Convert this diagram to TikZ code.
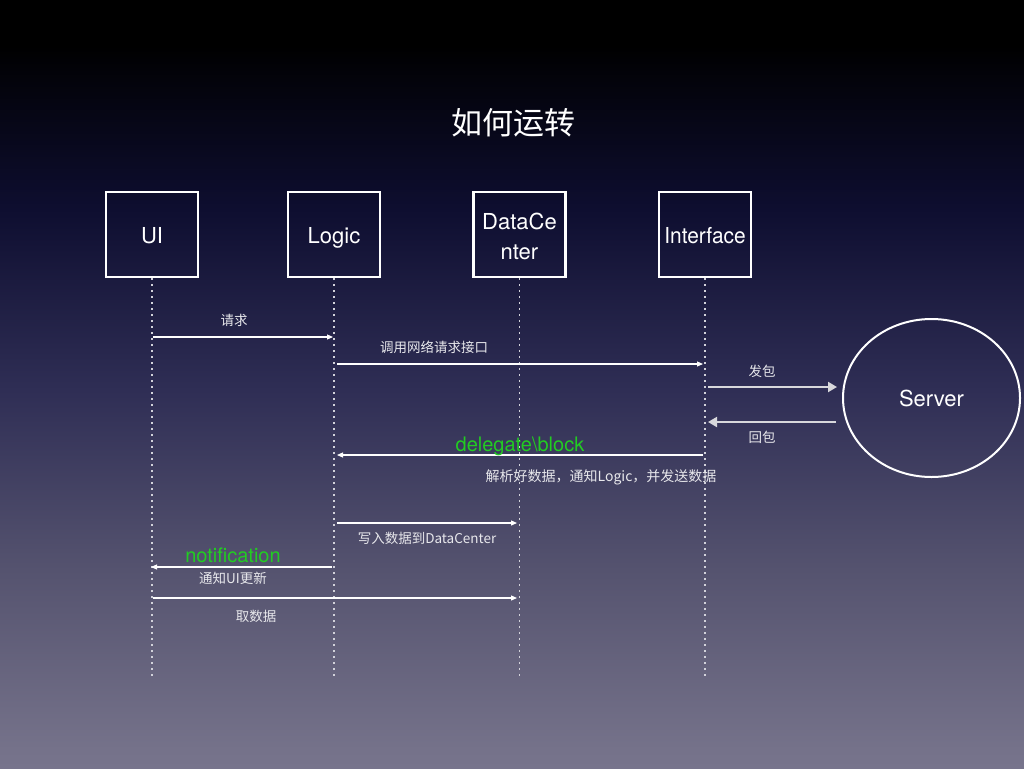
\documentclass[tikz,border=0pt]{standalone}
\usepackage{fontspec}
\setmainfont{TeX Gyre Heros}
\newfontfamily\cjk{Noto Sans CJK SC}
\usetikzlibrary{arrows.meta,shapes.geometric}
\definecolor{cbot}{HTML}{77748C}
\definecolor{cA}{HTML}{75728A}
\definecolor{cB}{HTML}{55536F}
\definecolor{cC}{HTML}{2F2E55}
\definecolor{cD}{HTML}{0E0E30}
\definecolor{cE}{HTML}{020208}
\definecolor{lblcol}{HTML}{E8E8EC}
\definecolor{dotcol}{HTML}{D2D2DA}
\definecolor{greenlbl}{HTML}{22CC22}
\definecolor{pktcol}{HTML}{D8D8DC}
\pgfdeclareverticalshading{bgshade}{100bp}{color(0bp)=(cbot); color(25bp)=(cbot); color(26.2bp)=(cA); color(37.9bp)=(cB); color(49.6bp)=(cC); color(61.4bp)=(cD); color(70.5bp)=(cE); color(72bp)=(black); color(100bp)=(black)}
\tikzset{
  actor/.style={draw=white, line width=2.6pt, minimum width=92pt, minimum height=85pt, inner sep=0pt, text=white, font=\fontsize{22}{30}\selectfont, align=center, text height=20pt, text depth=2pt},
  actortext/.style={text=white, font=\fontsize{22}{30}\selectfont, align=center, inner sep=0pt},
  lifeline/.style={draw=dotcol, line width=1.8pt, dash pattern=on 1.8pt off 4.2pt},
  msg/.style={draw=white, line width=1.1pt, -{Triangle[length=6pt,width=5pt]}},
  pkt/.style={draw=pktcol, line width=2pt, -{Triangle[length=9pt,width=10pt]}},
  lbl/.style={text=lblcol, font=\cjk\fontsize{13.5}{16}\selectfont, inner sep=0pt},
  glbl/.style={text=greenlbl, font=\fontsize{20}{22}\selectfont, inner sep=0pt, anchor=base},
}
\begin{document}
\begin{tikzpicture}[x=1pt,y=-1pt]
\useasboundingbox (0,0) rectangle (1024,768);
\shade[shading=bgshade] (0,0) rectangle (1024,768);

\node[text=white, font=\cjk\fontsize{31}{36}\selectfont] (title) at (513,123) {如何运转};

\node[actor] (ui) at (152,234.5) {UI};
\node[actor] (logic) at (334,234.5) {Logic};
\node[actor] (dc) at (519.5,234.5) {};
\node[actortext] (dctext) at (519.5,236.5) {DataCe\\nter};
\node[actor] (itf) at (705,234.5) {\addfontfeature{FakeStretch=0.95}Interface};
\node[draw=white, line width=2pt, ellipse, minimum width=177pt, minimum height=158pt, text=white, font=\fontsize{22}{26}\selectfont] (server) at (931.5,398) {Server};

% lifeline ends
\coordinate (uiE) at (152,676);
\coordinate (lgE) at (334,676);
\coordinate (dcE) at (519.5,676);
\coordinate (itE) at (705,676);
\draw[lifeline] (ui.south) -- (uiE);
\draw[lifeline] (logic.south) -- (lgE);
\draw[lifeline] (dc.south) -- (dcE);
\draw[lifeline] (itf.south) -- (itE);

% message points
\coordinate (m1a) at (153,337); \coordinate (m1b) at (333,337);
\coordinate (m2a) at (337,364); \coordinate (m2b) at (703,364);
\coordinate (m3a) at (708,387); \coordinate (m3b) at (837,387);
\coordinate (m4a) at (836,422); \coordinate (m4b) at (708,422);
\coordinate (m5a) at (703,455); \coordinate (m5b) at (337,455);
\coordinate (m6a) at (337,523); \coordinate (m6b) at (517,523);
\coordinate (m7a) at (332,567); \coordinate (m7b) at (151,567);
\coordinate (m8a) at (153,598); \coordinate (m8b) at (517,598);

\draw[msg] (m1a) -- (m1b);
\node[lbl] (l1) at (234,320) {请求};
\draw[msg] (m2a) -- (m2b);
\node[lbl] (l2) at (434,347) {调用网络请求接口};
\draw[pkt] (m3a) -- (m3b);
\node[lbl] (l3) at (762,371) {发包};
\draw[pkt] (m4a) -- (m4b);
\node[lbl] (l4) at (762,437) {回包};
\draw[msg] (m5a) -- (m5b);
\node[glbl] (g5) at (520,451) {delegate\textbackslash block};
\node[lbl, font=\cjk\fontsize{14}{16}\selectfont] (l5) at (601,477) {解析好数据，通知Logic，并发送数据};
\draw[msg] (m6a) -- (m6b);
\node[lbl] (l6) at (427,538) {写入数据到DataCenter};
\draw[msg] (m7a) -- (m7b);
\node[glbl] (g7) at (233,562) {notification};
\node[lbl] (l7) at (233,578) {通知UI更新};
\draw[msg] (m8a) -- (m8b);
\node[lbl] (l8) at (256,616) {取数据};
\end{tikzpicture}
\end{document}
